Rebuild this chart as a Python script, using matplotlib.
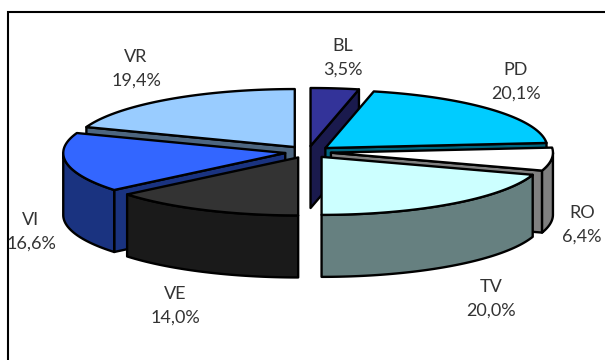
import numpy as np
import matplotlib
matplotlib.use("Agg")
import matplotlib.pyplot as plt
from matplotlib.patches import Polygon

labels = ["BL", "PD", "RO", "TV", "VE", "VI", "VR"]
values = [3.5, 20.1, 6.4, 20.0, 14.0, 16.6, 19.4]
top_colors = ["#333399", "#00CCFF", "#FFFFFF", "#CCFFFF", "#333333", "#3366FF", "#99CCFF"]
side_colors = ["#1A1A4D", "#006680", "#808080", "#668080", "#1A1A1A", "#1A3380", "#4D6680"]
draw_order = ["BL", "VR", "PD", "RO", "VI", "TV", "VE"]
label_pos = {"BL": (343, 58), "PD": (516, 82), "RO": (582, 225), "TV": (491, 299),
             "VE": (175, 306), "VI": (31, 232), "VR": (136, 69)}

CX, CY, RX, RY, DEPTH, EXPLODE = 308, 152, 222, 58, 62, 0.104
EDGE = dict(edgecolor="black", linewidth=1.7, joinstyle="round")

fig = plt.figure(figsize=(6.05, 3.60), dpi=100)
ax = fig.add_axes([0, 0, 1, 1])
ax.set_xlim(0, 605)
ax.set_ylim(360, 0)
ax.axis("off")

# outline frame (open at the bottom and on the right)
ax.plot([8, 8, 605], [360, 12, 12], color="black", lw=1.5, solid_joinstyle="miter")


def pt(angle, radius=1.0):
    """Project a clockwise-from-top angle (radians) on the tilted disc."""
    return np.column_stack([RX * radius * np.sin(angle), -RY * radius * np.cos(angle)])


def arc(a0, a1):
    n = max(2, int(abs(a1 - a0) * 60))
    return pt(np.linspace(a0, a1, n))


fractions = np.array(values) / sum(values)
edges = np.concatenate([[0], np.cumsum(fractions)]) * 2 * np.pi
geom = {l: (edges[i], edges[i + 1], top_colors[i], side_colors[i]) for i, l in enumerate(labels)}

for name in draw_order:
    a0, a1, top, side = geom[name]
    apex = np.array([CX, CY]) + pt(np.array([(a0 + a1) / 2]), EXPLODE)[0]
    down = np.array([0, DEPTH])
    # radial walls facing the viewer
    for a, visible in ((a0, a0 > np.pi), (a1, a1 < np.pi)):
        if visible:
            e = apex + pt(np.array([a]))[0]
            ax.add_patch(Polygon([apex, e, e + down, apex + down], closed=True, facecolor=side, **EDGE))
    # outer rim on the near half
    lo, hi = max(a0, np.pi / 2), min(a1, 3 * np.pi / 2)
    if lo < hi:
        rim = apex + arc(lo, hi)
        ax.add_patch(Polygon(np.vstack([rim, (rim + down)[::-1]]), closed=True, facecolor=side, **EDGE))
    # top surface
    ax.add_patch(Polygon(np.vstack([apex, apex + arc(a0, a1)]), closed=True, facecolor=top, **EDGE))

for l, v in zip(labels, values):
    x, y = label_pos[l]
    ax.text(x, y, f"{l}\n{v:.1f}%".replace(".", ","), ha="center", va="center",
            family="Lato", fontsize=13, fontweight="normal", color="#333333", linespacing=1.6)

fig.savefig("out.png", dpi=100)
